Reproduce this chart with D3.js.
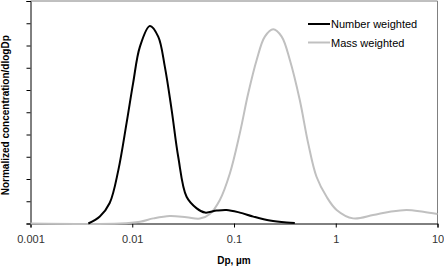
<!DOCTYPE html>
<html>
<head>
<meta charset="utf-8">
<script src="https://cdn.jsdelivr.net/npm/d3@7"></script>
<style>
  body { margin: 0; background: #fff; }
  text { font-family: "Liberation Sans", Arial, sans-serif; }
</style>
</head>
<body>
<svg width="444" height="268"></svg>
<script>
// particle diameter (um) and normalized concentration
var numberDp   = [0.0037, 0.0048, 0.006, 0.0073, 0.0088, 0.0102, 0.0119, 0.0149, 0.018, 0.0209, 0.0244, 0.0283, 0.0342, 0.043, 0.052, 0.0675, 0.0845, 0.114, 0.155, 0.225, 0.329, 0.396];
var numberConc = [0, 0.031, 0.092, 0.24, 0.452, 0.631, 0.795, 0.888, 0.84, 0.705, 0.51, 0.3, 0.12, 0.068, 0.049, 0.058, 0.061, 0.049, 0.031, 0.013, 0.004, 0.002];

var massDp   = [0.001, 0.0076, 0.0119, 0.0161, 0.0234, 0.0342, 0.0462, 0.0579, 0.0726, 0.0912, 0.114, 0.138, 0.167, 0.201, 0.243, 0.294, 0.354, 0.443, 0.536, 0.647, 0.813, 1.02, 1.48, 2.33, 3.4, 4.96, 7.23, 10];
var massConc = [0, 0, 0.008, 0.023, 0.034, 0.028, 0.022, 0.043, 0.106, 0.226, 0.405, 0.585, 0.735, 0.84, 0.873, 0.84, 0.735, 0.555, 0.36, 0.21, 0.12, 0.061, 0.023, 0.038, 0.053, 0.061, 0.053, 0.043];

var xTicks = [0.001, 0.01, 0.1, 1, 10];
var xTickLabels = ["0.001", "0.01", "0.1", "1", "10"];
var yTicks = [0, 0.1, 0.2, 0.3, 0.4, 0.5, 0.6, 0.7, 0.8, 0.9, 1];

var seriesNames = ["Number weighted", "Mass weighted"];
var seriesColors = ["#000000", "#c0c0c0"];

var svg = d3.select("svg"),
    plot = {left: 30.5, right: 437.5, top: 1, bottom: 223.5};

var x = d3.scaleLog().domain([0.001, 10]).range([plot.left, plot.right]),
    y = d3.scaleLinear().domain([0, 1]).range([plot.bottom, plot.top]);

// plot frame (top + right, gray)
svg.append("path")
    .attr("d", "M" + plot.left + "," + plot.top + "H" + plot.right + "V" + plot.bottom)
    .attr("fill", "none")
    .attr("stroke", "#808080")
    .attr("stroke-width", 1);

var xAxis = svg.append("g")
    .attr("transform", "translate(0," + plot.bottom + ")")
    .call(d3.axisBottom(x).tickValues(xTicks)
        .tickFormat(function(d, i) { return xTickLabels[i]; })
        .tickSizeOuter(0).tickSize(4).tickPadding(8));
xAxis.select(".domain").attr("stroke", "#000");
xAxis.selectAll(".tick text")
    .style("font-size", "11px")
    .attr("fill", "#333");

var yAxis = svg.append("g")
    .attr("transform", "translate(" + plot.left + ",0)")
    .call(d3.axisLeft(y).tickValues(yTicks).tickFormat("").tickSizeOuter(0).tickSize(4));
yAxis.select(".domain").attr("stroke", "#000");

svg.append("text")
    .attr("x", (plot.left + plot.right) / 2)
    .attr("y", 264)
    .attr("text-anchor", "middle")
    .style("font-size", "10px")
    .style("font-weight", "bold")
    .text("Dp, \u00b5m");

svg.append("text")
    .attr("transform", "translate(9," + ((plot.top + plot.bottom) / 2 + 3) + ") rotate(-90)")
    .attr("text-anchor", "middle")
    .style("font-size", "10px")
    .style("font-weight", "bold")
    .text("Normalized concentration/dlogDp");

var line = d3.line()
    .x(function(d) { return x(d[0]); })
    .y(function(d) { return Math.min(y(d[1]), plot.bottom); })
    .curve(d3.curveCatmullRom.alpha(0.5));

var series = [d3.zip(numberDp, numberConc), d3.zip(massDp, massConc)];

// mass first so number line sits on top
[1, 0].forEach(function(i) {
    svg.append("path")
        .datum(series[i])
        .attr("fill", "none")
        .attr("stroke", seriesColors[i])
        .attr("stroke-width", 2)
        .attr("d", line);
});

var legend = svg.append("g").attr("transform", "translate(308,24)");
seriesNames.forEach(function(name, i) {
    var row = legend.append("g").attr("transform", "translate(0," + (i * 18.5) + ")");
    row.append("line")
        .attr("x1", 0).attr("x2", 22)
        .attr("stroke", seriesColors[i])
        .attr("stroke-width", 2);
    row.append("text")
        .attr("x", 23)
        .attr("y", 4)
        .style("font-size", "11px")
        .text(name);
});
</script>
</body>
</html>
